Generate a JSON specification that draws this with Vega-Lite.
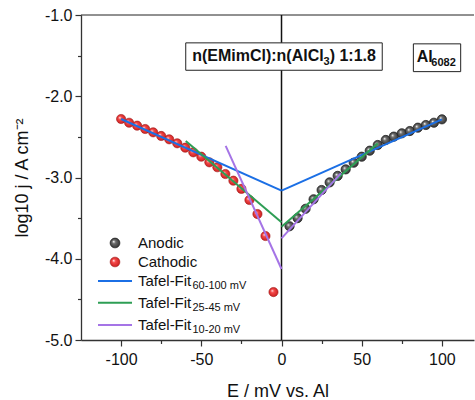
{
  "$schema": "https://vega.github.io/schema/vega-lite/v6.json",
  "width": 393,
  "height": 325,
  "autosize": {"type": "none"},
  "padding": {"left": 81, "top": 15, "right": 1, "bottom": 60},
  "data": {"values": [{}]},
  "config": {
    "view": {"stroke": null},
    "font": "Liberation Sans",
    "text": {"font": "Liberation Sans", "color": "#111"},
    "axis": {"labelFont": "Liberation Sans", "titleFont": "Liberation Sans", "labelColor": "#111", "titleColor": "#111", "titleFontWeight": "normal", "grid": false, "domainColor": "#333", "domainWidth": 1.3, "tickColor": "#333", "tickWidth": 1.2}
  },
  "datasets": {
    "points": [
      {"E": -100, "logj": -2.28, "type": "Cathodic"},
      {"E": -95, "logj": -2.326, "type": "Cathodic"},
      {"E": -90, "logj": -2.362, "type": "Cathodic"},
      {"E": -85, "logj": -2.403, "type": "Cathodic"},
      {"E": -80, "logj": -2.444, "type": "Cathodic"},
      {"E": -75, "logj": -2.489, "type": "Cathodic"},
      {"E": -70, "logj": -2.53, "type": "Cathodic"},
      {"E": -65, "logj": -2.579, "type": "Cathodic"},
      {"E": -60, "logj": -2.633, "type": "Cathodic"},
      {"E": -55, "logj": -2.69, "type": "Cathodic"},
      {"E": -50, "logj": -2.744, "type": "Cathodic"},
      {"E": -45, "logj": -2.813, "type": "Cathodic"},
      {"E": -40, "logj": -2.874, "type": "Cathodic"},
      {"E": -35, "logj": -2.957, "type": "Cathodic"},
      {"E": -30, "logj": -3.039, "type": "Cathodic"},
      {"E": -25, "logj": -3.14, "type": "Cathodic"},
      {"E": -20, "logj": -3.277, "type": "Cathodic"},
      {"E": -15, "logj": -3.45, "type": "Cathodic"},
      {"E": -10, "logj": -3.72, "type": "Cathodic"},
      {"E": -5, "logj": -4.41, "type": "Cathodic"},
      {"E": 5, "logj": -3.6, "type": "Anodic"},
      {"E": 10, "logj": -3.5, "type": "Anodic"},
      {"E": 15, "logj": -3.385, "type": "Anodic"},
      {"E": 20, "logj": -3.268, "type": "Anodic"},
      {"E": 25, "logj": -3.154, "type": "Anodic"},
      {"E": 30, "logj": -3.06, "type": "Anodic"},
      {"E": 35, "logj": -2.98, "type": "Anodic"},
      {"E": 40, "logj": -2.9, "type": "Anodic"},
      {"E": 45, "logj": -2.818, "type": "Anodic"},
      {"E": 50, "logj": -2.744, "type": "Anodic"},
      {"E": 55, "logj": -2.67, "type": "Anodic"},
      {"E": 60, "logj": -2.6, "type": "Anodic"},
      {"E": 65, "logj": -2.538, "type": "Anodic"},
      {"E": 70, "logj": -2.497, "type": "Anodic"},
      {"E": 75, "logj": -2.456, "type": "Anodic"},
      {"E": 80, "logj": -2.428, "type": "Anodic"},
      {"E": 85, "logj": -2.387, "type": "Anodic"},
      {"E": 90, "logj": -2.354, "type": "Anodic"},
      {"E": 95, "logj": -2.326, "type": "Anodic"},
      {"E": 100, "logj": -2.284, "type": "Anodic"}
    ],
    "fits": [
      {"fit": "60-100", "seg": "L", "E": -100, "logj": -2.28},
      {"fit": "60-100", "seg": "L", "E": 0, "logj": -3.162},
      {"fit": "60-100", "seg": "R", "E": 0, "logj": -3.162},
      {"fit": "60-100", "seg": "R", "E": 100, "logj": -2.284},
      {"fit": "25-45", "seg": "L", "E": -59.7, "logj": -2.55},
      {"fit": "25-45", "seg": "L", "E": 0, "logj": -3.551},
      {"fit": "25-45", "seg": "R", "E": 0, "logj": -3.605},
      {"fit": "25-45", "seg": "R", "E": 60, "logj": -2.58},
      {"fit": "10-20", "seg": "L", "E": -34.8, "logj": -2.61},
      {"fit": "10-20", "seg": "L", "E": 0, "logj": -4.126},
      {"fit": "10-20", "seg": "R", "E": 0, "logj": -3.75},
      {"fit": "10-20", "seg": "R", "E": 37, "logj": -2.95}
    ]
  },
  "layer": [
    {
      "data": {"name": "points"},
      "transform": [{"filter": "datum.type === 'Cathodic'"}],
      "mark": {"type": "point", "filled": true, "size": 85, "opacity": 1, "strokeWidth": 0.6, "stroke": "#a01818",
        "fill": {"gradient": "radial", "x1": 0.35, "y1": 0.35, "r1": 0.02, "x2": 0.5, "y2": 0.5, "r2": 0.55,
          "stops": [{"offset": 0, "color": "#ffe0e0"}, {"offset": 0.3, "color": "#f44a4a"}, {"offset": 1, "color": "#c81c1c"}]}},
      "encoding": {
        "x": {"field": "E", "type": "quantitative", "title": "E / mV vs. Al",
          "scale": {"domain": [-125, 120], "nice": false, "zero": false},
          "axis": {"values": [-100, -75, -50, -25, 0, 25, 50, 75, 100],
            "labelExpr": "datum.value % 50 === 0 ? ((datum.value < 0 ? '-' : '') + abs(datum.value)) : ''",
            "tickSize": {"condition": {"test": "datum.value % 50 !== 0", "value": 3.5}, "value": 6},
            "labelFontSize": 16, "titleFontSize": 18, "labelPadding": 5, "titlePadding": 15}},
        "y": {"field": "logj", "type": "quantitative", "title": "log10 j / A cm⁻²",
          "scale": {"domain": [-5, -1], "nice": false, "zero": false},
          "axis": {"values": [-5, -4.5, -4, -3.5, -3, -2.5, -2, -1.5, -1],
            "labelExpr": "datum.value % 1 === 0 ? ((datum.value < 0 ? '-' : '') + format(abs(datum.value), '.1f')) : ''",
            "tickSize": {"condition": {"test": "datum.value % 1 !== 0", "value": 3.5}, "value": 6},
            "labelFontSize": 16, "titleFontSize": 18, "labelPadding": 3, "titlePadding": 13}}
      }
    },
    {
      "data": {"name": "points"},
      "transform": [{"filter": "datum.type === 'Anodic'"}],
      "mark": {"type": "point", "filled": true, "size": 85, "opacity": 1, "strokeWidth": 0.8, "stroke": "#262626",
        "fill": {"gradient": "radial", "x1": 0.35, "y1": 0.35, "r1": 0.02, "x2": 0.5, "y2": 0.5, "r2": 0.55,
          "stops": [{"offset": 0, "color": "#f0f0f0"}, {"offset": 0.3, "color": "#6e6e6e"}, {"offset": 1, "color": "#2e2e2e"}]}},
      "encoding": {
        "x": {"field": "E", "type": "quantitative", "title": "E / mV vs. Al"},
        "y": {"field": "logj", "type": "quantitative", "title": "log10 j / A cm⁻²"}
      }
    },
    {
      "mark": {"type": "rule", "color": "#222", "strokeWidth": 1},
      "encoding": {"y": {"datum": -1}}
    },
    {
      "mark": {"type": "rule", "color": "#111", "strokeWidth": 1.5},
      "encoding": {"x": {"datum": 0}}
    },
    {
      "data": {"name": "fits"},
      "mark": {"type": "line", "strokeWidth": 2},
      "encoding": {
        "x": {"field": "E", "type": "quantitative", "title": "E / mV vs. Al"},
        "y": {"field": "logj", "type": "quantitative", "title": "log10 j / A cm⁻²"},
        "detail": {"field": "seg"},
        "color": {"field": "fit", "type": "nominal", "legend": null,
          "scale": {"domain": ["60-100", "25-45", "10-20"], "range": ["#1b6fe5", "#2e9e55", "#a574e6"]}}
      }
    },
    {
      "mark": {"type": "rect", "fill": "white", "stroke": "#222", "strokeWidth": 1},
      "encoding": {"x": {"datum": -59.7}, "x2": {"datum": 62.8}, "y": {"datum": -1.343}, "y2": {"datum": -1.68}}
    },
    {
      "mark": {"type": "text", "fontSize": 16, "fontWeight": "bold", "align": "left", "baseline": "alphabetic"},
      "encoding": {"x": {"datum": -55.7}, "y": {"datum": -1.562}, "text": {"value": "n(EMimCl):n(AlCl"}}
    },
    {
      "mark": {"type": "text", "fontSize": 11, "fontWeight": "bold", "align": "left", "baseline": "alphabetic", "dy": 4},
      "encoding": {"x": {"datum": 26.2}, "y": {"datum": -1.562}, "text": {"value": "3"}}
    },
    {
      "mark": {"type": "text", "fontSize": 16, "fontWeight": "bold", "align": "left", "baseline": "alphabetic"},
      "encoding": {"x": {"datum": 30.0}, "y": {"datum": -1.562}, "text": {"value": ") 1:1.8"}}
    },
    {
      "mark": {"type": "rect", "fill": "white", "stroke": "#222", "strokeWidth": 1},
      "encoding": {"x": {"datum": 82.2}, "x2": {"datum": 111.7}, "y": {"datum": -1.355}, "y2": {"datum": -1.697}}
    },
    {
      "mark": {"type": "text", "fontSize": 16, "fontWeight": "bold", "align": "left", "baseline": "alphabetic"},
      "encoding": {"x": {"datum": 84.3}, "y": {"datum": -1.582}, "text": {"value": "Al"}}
    },
    {
      "mark": {"type": "text", "fontSize": 11, "fontWeight": "bold", "align": "left", "baseline": "alphabetic", "dy": 4},
      "encoding": {"x": {"datum": 93.4}, "y": {"datum": -1.582}, "text": {"value": "6082"}}
    },
    {
      "mark": {"type": "point", "filled": true, "size": 95, "opacity": 1, "strokeWidth": 0.8, "stroke": "#262626",
        "fill": {"gradient": "radial", "x1": 0.35, "y1": 0.35, "r1": 0.02, "x2": 0.5, "y2": 0.5, "r2": 0.55,
          "stops": [{"offset": 0, "color": "#f0f0f0"}, {"offset": 0.3, "color": "#6e6e6e"}, {"offset": 1, "color": "#2e2e2e"}]}},
      "encoding": {"x": {"datum": -103.8}, "y": {"datum": -3.806}}
    },
    {
      "mark": {"type": "point", "filled": true, "size": 95, "opacity": 1, "strokeWidth": 0.6, "stroke": "#a01818",
        "fill": {"gradient": "radial", "x1": 0.35, "y1": 0.35, "r1": 0.02, "x2": 0.5, "y2": 0.5, "r2": 0.55,
          "stops": [{"offset": 0, "color": "#ffe0e0"}, {"offset": 0.3, "color": "#f44a4a"}, {"offset": 1, "color": "#c81c1c"}]}},
      "encoding": {"x": {"datum": -103.8}, "y": {"datum": -4.04}}
    },
    {
      "mark": {"type": "rule", "color": "#1b6fe5", "strokeWidth": 2},
      "encoding": {"x": {"datum": -114.4}, "x2": {"datum": -93.2}, "y": {"datum": -4.274}}
    },
    {
      "mark": {"type": "rule", "color": "#2e9e55", "strokeWidth": 2},
      "encoding": {"x": {"datum": -114.4}, "x2": {"datum": -93.2}, "y": {"datum": -4.541}}
    },
    {
      "mark": {"type": "rule", "color": "#a574e6", "strokeWidth": 2},
      "encoding": {"x": {"datum": -114.4}, "x2": {"datum": -93.2}, "y": {"datum": -4.815}}
    },
    {
      "mark": {"type": "text", "fontSize": 15, "align": "left", "baseline": "middle"},
      "encoding": {"x": {"datum": -89.5}, "y": {"datum": -3.806}, "text": {"value": "Anodic"}}
    },
    {
      "mark": {"type": "text", "fontSize": 15, "align": "left", "baseline": "middle"},
      "encoding": {"x": {"datum": -89.5}, "y": {"datum": -4.04}, "text": {"value": "Cathodic"}}
    },
    {
      "mark": {"type": "text", "fontSize": 15, "align": "left", "baseline": "middle"},
      "encoding": {"x": {"datum": -89.5}, "y": {"datum": -4.274}, "text": {"value": "Tafel-Fit"}}
    },
    {
      "mark": {"type": "text", "fontSize": 11, "align": "left", "baseline": "middle", "dy": 5},
      "encoding": {"x": {"datum": -55.5}, "y": {"datum": -4.274}, "text": {"value": "60-100 mV"}}
    },
    {
      "mark": {"type": "text", "fontSize": 15, "align": "left", "baseline": "middle"},
      "encoding": {"x": {"datum": -89.5}, "y": {"datum": -4.541}, "text": {"value": "Tafel-Fit"}}
    },
    {
      "mark": {"type": "text", "fontSize": 11, "align": "left", "baseline": "middle", "dy": 5},
      "encoding": {"x": {"datum": -55.5}, "y": {"datum": -4.541}, "text": {"value": "25-45 mV"}}
    },
    {
      "mark": {"type": "text", "fontSize": 15, "align": "left", "baseline": "middle"},
      "encoding": {"x": {"datum": -89.5}, "y": {"datum": -4.815}, "text": {"value": "Tafel-Fit"}}
    },
    {
      "mark": {"type": "text", "fontSize": 11, "align": "left", "baseline": "middle", "dy": 5},
      "encoding": {"x": {"datum": -55.5}, "y": {"datum": -4.815}, "text": {"value": "10-20 mV"}}
    }
  ]
}
